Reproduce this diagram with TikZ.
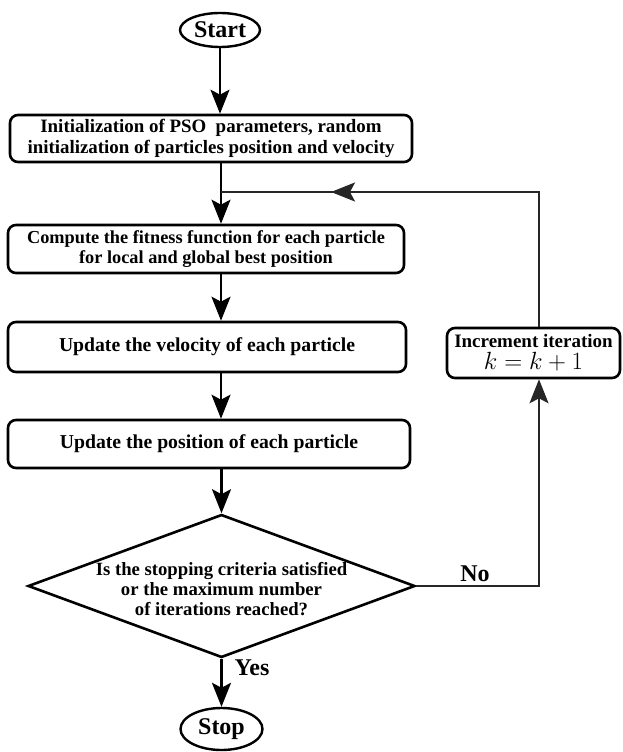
\documentclass[tikz,border=0pt]{standalone}
\usepackage{fontspec}
\setmainfont{Liberation Serif}
\usetikzlibrary{shapes.geometric,arrows.meta}
\begin{document}
\begin{tikzpicture}[x=1pt,y=-1pt,
  box/.style={draw, line width=2.6pt, rounded corners=8pt, align=center, inner sep=0pt,
    font=\fontsize{18.5}{21}\selectfont\bfseries},
  term/.style={draw, ellipse, line width=2.4pt, inner sep=0pt,
    font=\fontsize{24}{26}\selectfont\bfseries},
  line/.style={line width=2.3pt},
  loopline/.style={line width=2pt, draw=black!85},
  arr/.style={line width=2.3pt, -{Stealth[length=24pt,width=19pt,inset=5pt]}},
  looparr/.style={line width=2pt, draw=black!85, -{Stealth[length=24pt,width=19pt,inset=5pt]}},
  lab/.style={font=\fontsize{24}{26}\selectfont\bfseries}
]
\useasboundingbox (0,0) rectangle (623,752);

\node[term, minimum width=80pt, minimum height=34pt] (start) at (220,30) {Start};
\node[box, minimum width=402pt, minimum height=47pt, font=\fontsize{18.9}{21}\selectfont\bfseries] (b1) at (211,138.5)
  {Initialization of PSO\ \ parameters, random\\initialization of particles position and velocity};
\node[box, minimum width=396pt, minimum height=48pt, font=\fontsize{18.3}{20}\selectfont\bfseries] (b2) at (206,249)
  {Compute the fitness function for each particle\\for local and global best position};
\node[box, minimum width=398pt, minimum height=50pt, font=\fontsize{19.7}{21}\selectfont\bfseries] (b3) at (207,347)
  {Update the velocity of each particle};
\node[box, minimum width=402pt, minimum height=48pt, font=\fontsize{19.7}{21}\selectfont\bfseries] (b4) at (209,444)
  {Update the position of each particle};
\node[draw, diamond, aspect=2.706, line width=2.6pt, minimum width=387pt, minimum height=143pt,
  inner sep=-10pt, font=\fontsize{18.7}{20}\selectfont\bfseries] (d) at (221.5,586)
  {\raisebox{-5pt}[\height][\depth]{\begin{tabular}{@{}c@{}}Is the stopping criteria satisfied\\or the maximum number\\of iterations reached?\end{tabular}}};
\node[term, minimum width=82pt, minimum height=42pt] (stop) at (221.5,729) {Stop};
\node[box, minimum width=173pt, minimum height=50pt, font=\fontsize{19}{22}\selectfont\bfseries] (inc) at (533.5,353)
  {Increment iteration\\{\fontsize{24}{22}\selectfont$k=k+1$}};

\node[lab] (no) at (475,574) {No};
\node[lab] (yes) at (252,668) {Yes};

\coordinate (j) at (221,192);
\coordinate (br) at (539,586);
\coordinate (tr) at (539,192);
\coordinate (ah) at (331,192);

\draw[arr] (start.south) -- (start.south |- b1.north);
\draw[line] (j |- b1.south) -- (j);
\draw[arr] (j) -- (j |- b2.north);
\draw[arr] (j |- b2.south) -- (j |- b3.north);
\draw[arr] (j |- b3.south) -- (j |- b4.north);
\draw[arr] (d.north |- b4.south) -- (d.north);
\draw[arr] (d.south) -- (stop.north);
\draw[looparr] (d.east) -- (br) -- (br |- inc.south);
\draw[loopline] (br |- inc.north) -- (tr) -- (j);
\draw[looparr] (tr) -- (ah);
\end{tikzpicture}
\end{document}
